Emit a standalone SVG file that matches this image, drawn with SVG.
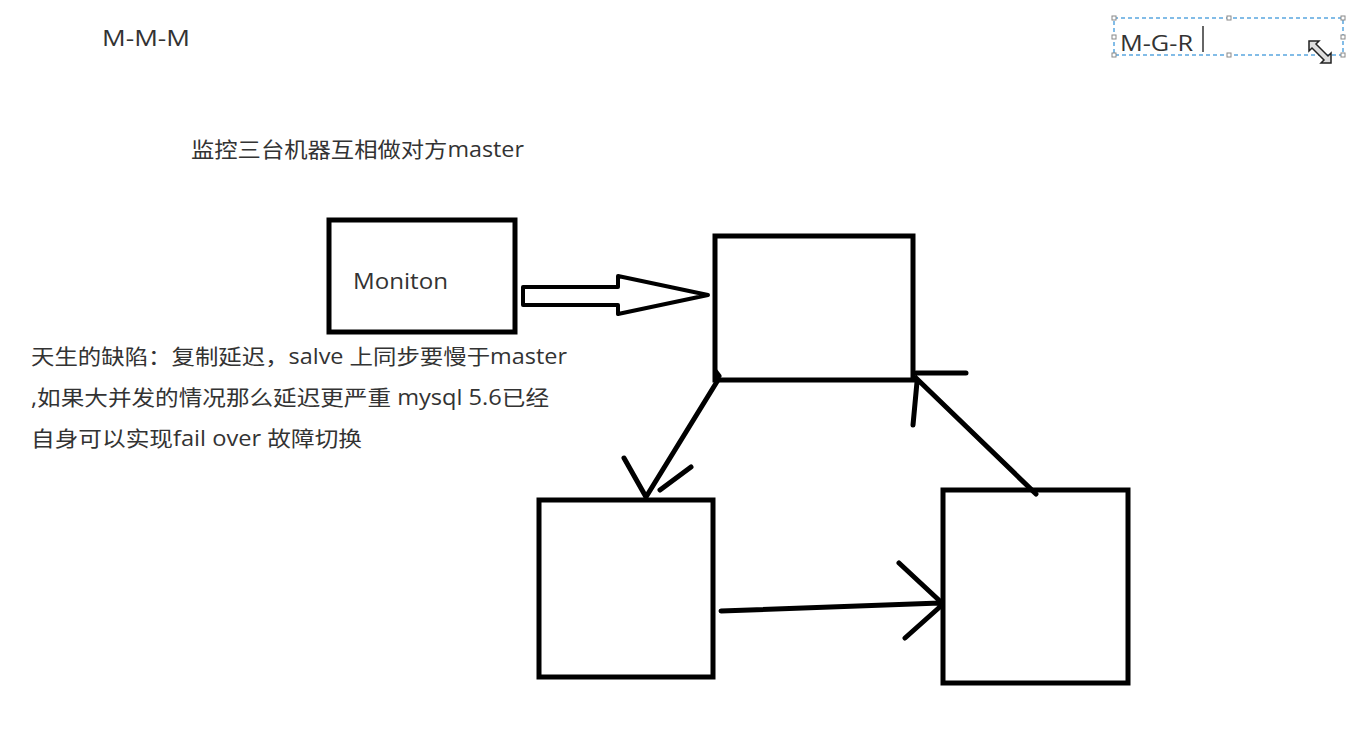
<svg xmlns="http://www.w3.org/2000/svg" width="1356" height="737" viewBox="0 0 1356 737">
<style>
.t{font-family:"Open Sans","Noto Sans CJK SC",sans-serif;font-size:21px;fill:#333}
.box{fill:none;stroke:#000;stroke-width:5}
.ln{fill:none;stroke:#000;stroke-width:5;stroke-linecap:round}
.h{fill:#fff;stroke:#888;stroke-width:1}
</style>
<rect width="1356" height="737" fill="#fff"/>
<text class="t" x="102" y="46" textLength="88" lengthAdjust="spacingAndGlyphs">M-M-M</text>
<g id="mgr">
<rect x="1114" y="18" width="229" height="37" fill="none" stroke="#5aa6e0" stroke-width="1.5" stroke-dasharray="4 3"/>
<rect class="h" x="1112" y="16" width="4" height="4"/><rect class="h" x="1227" y="16" width="4" height="4"/><rect class="h" x="1341" y="16" width="4" height="4"/>
<rect class="h" x="1112" y="35" width="4" height="4"/><rect class="h" x="1341" y="35" width="4" height="4"/>
<rect class="h" x="1112" y="53" width="4" height="4"/><rect class="h" x="1227" y="53" width="4" height="4"/><rect class="h" x="1341" y="53" width="4" height="4"/>
<text class="t" x="1120" y="51" style="font-size:22px" textLength="73" lengthAdjust="spacingAndGlyphs">M-G-R</text>
<line x1="1203" y1="26" x2="1203" y2="52" stroke="#333" stroke-width="1.5"/>
<path d="M1309,41 l10,0 l-3,3 l12,12 l3,-3 l0,10 l-10,0 l3,-3 l-12,-12 l-3,3 z" fill="#ddd" stroke="#222" stroke-width="1.5"/>
</g>
<text class="t" x="191" y="157" textLength="333" lengthAdjust="spacingAndGlyphs">监控三台机器互相做对方master</text>
<g id="moniton">
<rect class="box" x="329" y="220" width="186" height="112" stroke-width="4"/>
<text class="t" x="353" y="289" textLength="95" lengthAdjust="spacingAndGlyphs">Moniton</text>
</g>
<g id="master1"><rect class="box" x="715" y="236" width="198" height="144"/></g>
<g id="master2"><rect class="box" x="539" y="500" width="174" height="177"/></g>
<g id="master3"><rect class="box" x="943" y="490" width="185" height="193"/></g>
<g id="notes">
<text class="t" x="31" y="364" textLength="536" lengthAdjust="spacingAndGlyphs">天生的缺陷：复制延迟，salve 上同步要慢于master</text>
<text class="t" x="31" y="405" textLength="518" lengthAdjust="spacingAndGlyphs">,如果大并发的情况那么延迟更严重 mysql 5.6已经</text>
<text class="t" x="31" y="446" textLength="331" lengthAdjust="spacingAndGlyphs">自身可以实现fail over 故障切换</text>
</g>
<g id="connectors">
<polygon points="523,287 618,287 618,276 708,295 618,314 618,305 523,305" fill="#fff" stroke="#000" stroke-width="4" stroke-linejoin="round"/>
<path class="ln" d="M718,380 L646,497 M624,458 L646,497 M691,467 L660,490"/>
<path class="ln" d="M1036,494 L916,378 M916,373 L966,373 M913,425 L917,382"/>
<path class="ln" d="M721,611 L940,603 M899,563 L942,603 M905,638 L942,605"/>
<path class="ln" d="M716,372 L719,376" stroke-width="4"/>
</g>
</svg>
